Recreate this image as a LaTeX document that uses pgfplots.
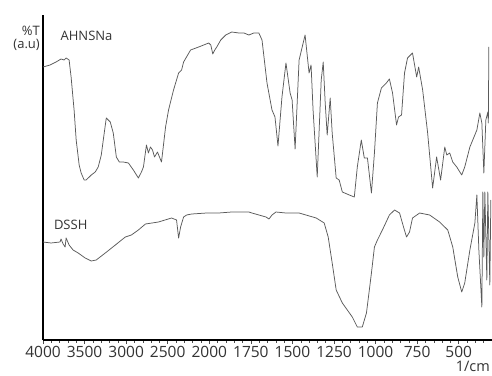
\documentclass[border=0pt]{standalone}
\usepackage{fontspec}
\setmainfont{Open Sans}
\usepackage{pgfplots}
\usepackage{pgfplotstable}
\pgfplotsset{compat=1.18}
\definecolor{trace}{HTML}{5A5A5A}
\definecolor{txt}{HTML}{333333}

% wavenumber (1/cm)  %T (a.u.)
\pgfplotstableread{
w T
4000 273
3915 275
3843 278
3783 281
3746 280
3722 282
3686 280
3662 263
3626 230
3601 200
3565 175
3541 167
3505 160
3481 160
3444 163
3420 165
3372 168
3336 173
3299 185
3275 200
3239 222
3215 220
3191 218
3155 207
3118 183
3082 178
3034 178
2973 177
2913 170
2853 162
2816 168
2792 173
2756 195
2732 187
2708 193
2683 190
2659 183
2623 188
2575 178
2551 195
2526 213
2490 230
2430 250
2369 267
2333 270
2309 278
2225 290
2128 293
2007 297
1991 295
1979 286
1967 290
1955 293
1931 300
1901 305
1865 308
1822 307
1792 307
1762 305
1732 307
1702 307
1683 300
1653 257
1623 230
1605 223
1587 194
1563 243
1539 277
1514 247
1502 240
1484 191
1460 280
1424 305
1400 267
1388 275
1376 230
1351 163
1327 260
1315 278
1303 237
1291 205
1273 242
1261 207
1237 162
1219 160
1200 148
1158 145
1128 143
1110 173
1086 200
1068 182
1049 182
1025 147
1007 187
989 237
965 252
935 257
917 261
898 247
874 215
862 223
844 225
826 267
808 282
778 287
753 263
741 273
717 250
687 207
657 152
633 183
609 160
584 193
572 185
554 187
536 178
512 173
482 165
464 173
433 193
391 210
373 227
361 217
349 167
337 220
325 228
322 217
319 293
}\ahnsna

\pgfplotstableread{
w T
4000 98
3903 97
3795 98
3783 101
3758 96
3734 93
3722 102
3686 95
3638 90
3577 87
3493 82
3420 79
3360 80
3251 87
3130 95
3010 103
2937 105
2853 110
2768 116
2611 118
2454 122
2394 120
2369 102
2345 113
2309 123
2273 125
2212 126
2031 127
1943 127
1865 128
1762 128
1744 127
1659 123
1641 121
1623 125
1599 128
1539 127
1460 127
1357 122
1309 117
1285 103
1261 77
1237 50
1200 37
1140 23
1110 13
1080 13
1055 27
1025 67
1007 93
989 100
959 110
917 125
886 130
856 127
832 113
814 103
796 108
778 122
735 127
675 125
615 118
566 110
536 93
506 63
482 48
464 57
433 90
403 117
391 145
379 90
361 33
355 148
349 83
343 148
331 60
325 148
313 55
307 140
}\dssh

\begin{document}
\begin{tikzpicture}
\path[use as bounding box] (-43pt,-35pt) rectangle (449pt,340pt);
\begin{axis}[
  at={(0pt,0pt)}, anchor=south west,
  scale only axis, width=449pt, height=325pt,
  xmin=0, xmax=2700, ymin=0, ymax=325,
  axis x line=bottom, axis y line=left,
  x axis line style={-, line width=1.8pt, black},
  y axis line style={-, line width=1.2pt, black},
  ytick=\empty,
  xtick={0,250,...,2500},
  xticklabels={4000,3500,3000,2500,2000,1750,1500,1250,1000,750,500},
  minor xtick={50,100,...,2700},
  tick align=outside,
  major tick length=4pt, minor tick length=2.5pt,
  every tick/.style={black!70, line width=0.5pt},
  /pgf/number format/assume math mode=true,
  xticklabel style={font=\fontsize{15.5}{18}\selectfont, text=txt, inner sep=1pt, yshift=-1pt},
  clip=false,
]
\addplot[trace, line width=0.75pt, line join=round] table[
  x expr={\thisrowno{0}>=2000 ? (4000-\thisrowno{0})/2 : 3000-\thisrowno{0}},
  y index=1] {\ahnsna};
\addplot[trace, line width=0.75pt, line join=round] table[
  x expr={\thisrowno{0}>=2000 ? (4000-\thisrowno{0})/2 : 3000-\thisrowno{0}},
  y index=1] {\dssh};
\node[anchor=west, text=txt, font=\fontsize{13}{15}\selectfont, inner sep=0pt] at (axis cs:105,304) {AHNSNa};
\node[anchor=west, text=txt, font=\fontsize{13}{15}\selectfont, inner sep=0pt] at (axis cs:65,115) {DSSH};
\node[anchor=north east, text=txt, font=\fontsize{13}{15}\selectfont, align=right, inner sep=0pt, xshift=-3pt] at (axis cs:0,314) {\%T\\[-2pt](a.u)};
\node[anchor=base east, text=txt, font=\fontsize{14.5}{17}\selectfont, inner sep=0pt] at (axis cs:2688,-31) {1/cm};
\end{axis}
\end{tikzpicture}
\end{document}
